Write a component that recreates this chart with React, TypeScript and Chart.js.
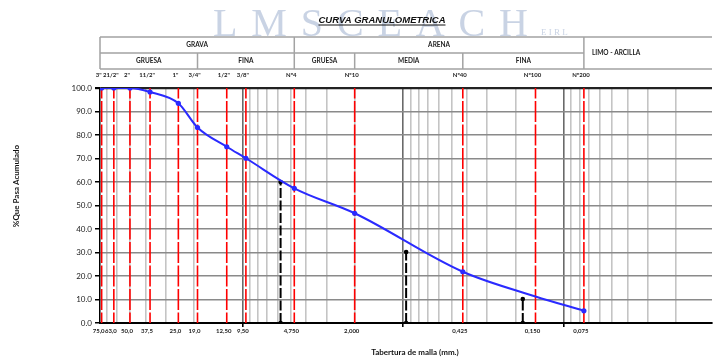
import React, { useEffect, useRef } from "react";
import { Chart, registerables } from "chart.js";

Chart.register(...registerables);

// ---------------- data ----------------
const sieveSizesMm = [75, 63, 50, 37.5, 25, 19, 12.5, 9.5, 4.75, 2.0, 0.425, 0.15, 0.075];
const sieveBottomLabels = ["75,0", "63,0", "50,0", "37,5", "25,0", "19,0", "12,50", "9,50", "4,750", "2,000", "0,425", "0,150", "0,075"];
const sieveTopLabels = ['3"', '21/2"', '2"', '11/2"', '1"', '3/4"', '1/2"', '3/8"', "Nº4", "Nº10", "Nº40", "Nº100", "Nº200"];
const percentPassing = [100, 100, 100, 98.3, 93.5, 83.2, 75.0, 70.1, 57.3, 46.7, 21.8, 11.3, 5.2];

const dNames = ["D60", "D30", "D10"];
const dDiametersMm = [5.78, 0.957, 0.18];
const dPercents = [60, 30.2, 10.2];

const yTickValues = [0, 10, 20, 30, 40, 50, 60, 70, 80, 90, 100];

const xAxisMax = 76.8;
const xAxisMin = 0.01197;

const fractionNames = ["GRAVA", "ARENA"];
const fractionLimits = [xAxisMax, 4.75, 0.075];
const fineFractionName = "LIMO - ARCILLA";
const subFractionNames = ["GRUESA", "FINA", "GRUESA", "MEDIA", "FINA"];
const subFractionLimits = [xAxisMax, 19, 4.75, 2.0, 0.425, 0.075];

const titleText = "CURVA GRANULOMETRICA";
const watermarkText = "LMSCEACH";
const watermarkSuffix = "E I R L";
const xTitle = "Tabertura de malla (mm.)";
const yTitle = "%Que Pasa Acumulado";

// ---------------- helpers ----------------
const FONT = "Lato, 'Liberation Sans', sans-serif";

function isDecade(v: number) {
  const l = Math.log10(v);
  return Math.abs(l - Math.round(l)) < 1e-6;
}
function isGridValue(v: number) {
  const e = Math.floor(Math.log10(v) + 1e-9);
  const m = v / Math.pow(10, e);
  return Math.abs(m - Math.round(m)) < 1e-6;
}
function gridValues() {
  const out: number[] = [];
  for (let e = -2; e <= 1; e++) {
    for (let m = 1; m <= 9; m++) {
      const v = +(m * Math.pow(10, e)).toPrecision(6);
      if (v >= xAxisMin && v <= xAxisMax) out.push(v);
    }
  }
  return out;
}
function sieveIndex(v: number) {
  return sieveSizesMm.findIndex((s) => Math.abs(s - v) / s < 1e-6);
}

const backgroundPlugin = {
  id: "watermark",
  beforeDraw(chart: any) {
    const { ctx } = chart;
    ctx.save();
    ctx.fillStyle = "rgba(188, 200, 221, 0.8)";
    ctx.font = "40px 'Liberation Serif', serif";
    ctx.textBaseline = "alphabetic";
    ctx.textAlign = "left";
    const left = 213;
    const right = 528;
    const chars = watermarkText.split("");
    const widths = chars.map((c) => ctx.measureText(c).width);
    const total = widths.reduce((a, b) => a + b, 0);
    const gap = (right - left - total) / (chars.length - 1);
    let x = left;
    chars.forEach((c, i) => {
      ctx.fillText(c, x, 36);
      x += widths[i] + gap;
    });
    ctx.font = "9px 'Liberation Serif', serif";
    ctx.fillText(watermarkSuffix, 541, 35);
    ctx.restore();
  },
};

const headerPlugin = {
  id: "header",
  afterDraw(chart: any) {
    const { ctx, chartArea, scales } = chart;
    const xs = scales.x;
    const px = (v: number) => xs.getPixelForValue(v);
    const L = chartArea.left;
    const R = chartArea.right;
    const y0 = 37;
    const y1 = 53;
    const y2 = 69;
    ctx.save();

    // title
    ctx.fillStyle = "#111";
    ctx.font = `italic bold 9.5px 'Liberation Sans', sans-serif`;
    ctx.textAlign = "center";
    ctx.textBaseline = "alphabetic";
    const tw = ctx.measureText(titleText).width;
    ctx.fillText(titleText, 382, 23);
    ctx.strokeStyle = "#111";
    ctx.lineWidth = 1;
    ctx.beginPath();
    ctx.moveTo(382 - tw / 2, 25);
    ctx.lineTo(382 + tw / 2, 25);
    ctx.stroke();

    // table
    ctx.strokeStyle = "#a3a3a3";
    ctx.lineWidth = 1.5;
    ctx.beginPath();
    ctx.moveTo(L, y0);
    ctx.lineTo(R, y0);
    ctx.moveTo(L, y2);
    ctx.lineTo(R, y2);
    ctx.moveTo(L, y1);
    ctx.lineTo(px(fractionLimits[fractionLimits.length - 1]), y1);
    ctx.moveTo(L, y0);
    ctx.lineTo(L, y2);
    for (let i = 1; i < fractionLimits.length; i++) {
      const x = px(fractionLimits[i]);
      ctx.moveTo(x, y0);
      ctx.lineTo(x, y1);
    }
    for (let i = 1; i < subFractionLimits.length; i++) {
      const x = px(subFractionLimits[i]);
      ctx.moveTo(x, y1);
      ctx.lineTo(x, y2);
    }
    ctx.stroke();

    ctx.fillStyle = "#222";
    ctx.font = `bold 6.5px ${FONT}`;
    ctx.textBaseline = "middle";
    ctx.textAlign = "center";
    fractionNames.forEach((n, i) => {
      const a = Math.max(px(fractionLimits[i]), L);
      const b = px(fractionLimits[i + 1]);
      ctx.fillText(n, (a + b) / 2, (y0 + y1) / 2);
    });
    subFractionNames.forEach((n, i) => {
      const a = Math.max(px(subFractionLimits[i]), L);
      const b = px(subFractionLimits[i + 1]);
      ctx.fillText(n, (a + b) / 2, (y1 + y2) / 2);
    });
    ctx.textAlign = "left";
    ctx.fillText(fineFractionName, px(fractionLimits[fractionLimits.length - 1]) + 8, (y0 + y2) / 2);

    // sieve names on top
    ctx.font = `bold 6px ${FONT}`;
    ctx.textAlign = "center";
    sieveTopLabels.forEach((t, i) => {
      ctx.fillText(t, px(sieveSizesMm[i]) - 3, 75);
    });

    // axis titles
    ctx.font = `bold 8px ${FONT}`;
    ctx.fillStyle = "#111";
    ctx.fillText(xTitle, 415, 352);
    ctx.save();
    ctx.translate(16, 186);
    ctx.rotate(-Math.PI / 2);
    ctx.fillText(yTitle, 0, 0);
    ctx.restore();

    ctx.restore();
  },
};

export default function App() {
  const canvasRef = useRef<HTMLCanvasElement | null>(null);

  useEffect(() => {
    const canvas = canvasRef.current;
    if (!canvas) return;

    const curve = {
      label: "Curva",
      data: sieveSizesMm.map((s, i) => ({ x: s, y: percentPassing[i] })),
      borderColor: "#2a2aff",
      backgroundColor: "#2a2aff",
      borderWidth: 2,
      pointRadius: (c: any) => (sieveSizesMm[c.dataIndex] === 0.15 ? 0 : 2.6),
      pointBorderWidth: 0,
      cubicInterpolationMode: "monotone" as const,
      order: 0,
    };

    const dLines = dNames.map((n, i) => ({
      label: n,
      data: [
        { x: dDiametersMm[i], y: 0 },
        { x: dDiametersMm[i], y: dPercents[i] },
      ],
      borderColor: "#000",
      backgroundColor: "#000",
      borderWidth: 2,
      borderDash: [10, 2.5],
      pointRadius: 2.3,
      pointBorderWidth: 0,
      order: 1,
    }));

    const redLines = sieveSizesMm.map((s) => ({
      label: "t" + s,
      data: [
        { x: s, y: 0 },
        { x: s, y: 100 },
      ],
      borderColor: "#ff0000",
      borderWidth: 1.6,
      borderDash: [21, 2.5],
      borderDashOffset: 10.5,
      pointRadius: 0,
      order: 2,
    }));

    const grid = gridValues();

    const chart = new Chart(canvas, {
      type: "line",
      data: { datasets: [curve, ...dLines, ...redLines] as any },
      plugins: [backgroundPlugin, headerPlugin],
      options: {
        animation: false,
        responsive: false,
        events: [],
        layout: { padding: { top: 88, right: 0, bottom: 0, left: 0 } },
        plugins: { legend: { display: false }, tooltip: { enabled: false } },
        scales: {
          x: {
            type: "logarithmic",
            reverse: true,
            min: xAxisMin,
            max: xAxisMax,
            afterBuildTicks: (scale: any) => {
              const vals = Array.from(new Set([...grid, ...sieveSizesMm])).sort((a, b) => a - b);
              scale.ticks = vals.map((v) => ({ value: v }));
            },
            afterFit: (scale: any) => {
              scale.height = 34;
            },
            grid: {
              color: (c: any) => {
                const v = c.tick ? c.tick.value : null;
                if (v == null || !isGridValue(v)) return "rgba(0,0,0,0)";
                return isDecade(v) ? "#6a6a6a" : "#c4c4c4";
              },
              lineWidth: 1.6,
              tickColor: (c: any) => {
                const v = c.tick ? c.tick.value : null;
                return v != null && isDecade(v) ? "#000" : "rgba(0,0,0,0)";
              },
              tickLength: 4,
              drawTicks: true,
            },
            border: { display: true, color: "#000", width: 2 },
            ticks: {
              autoSkip: false,
              maxRotation: 0,
              minRotation: 0,
              labelOffset: -3,
              padding: 0,
              color: "#222",
              font: { family: FONT, size: 6, weight: "bold" },
              callback: (v: any) => {
                const i = sieveIndex(Number(v));
                return i >= 0 ? sieveBottomLabels[i] : "";
              },
            },
          },
          y: {
            type: "linear",
            min: 0,
            max: 100,
            afterBuildTicks: (scale: any) => {
              scale.ticks = yTickValues.map((v) => ({ value: v }));
            },
            afterFit: (scale: any) => {
              scale.width = 100;
            },
            grid: {
              color: (c: any) => (c.tick && c.tick.value === 100 ? "#222" : "#8a8a8a"),
              lineWidth: (c: any) => (c.tick && c.tick.value === 100 ? 2.2 : 1.5),
              tickColor: "#000",
              tickLength: 5,
            },
            border: { display: true, color: "#000", width: 1.5 },
            ticks: {
              padding: 3,
              color: "#222",
              font: { family: FONT, size: 8 },
              callback: (v: any) => Number(v).toFixed(1),
            },
          },
        },
      } as any,
    });

    return () => chart.destroy();
  }, []);

  return (
    <div style={{ position: "absolute", left: 0, top: 0, width: 716, height: 357, background: "#fff" }}>
      <canvas ref={canvasRef} width={716} height={357} />
    </div>
  );
}
